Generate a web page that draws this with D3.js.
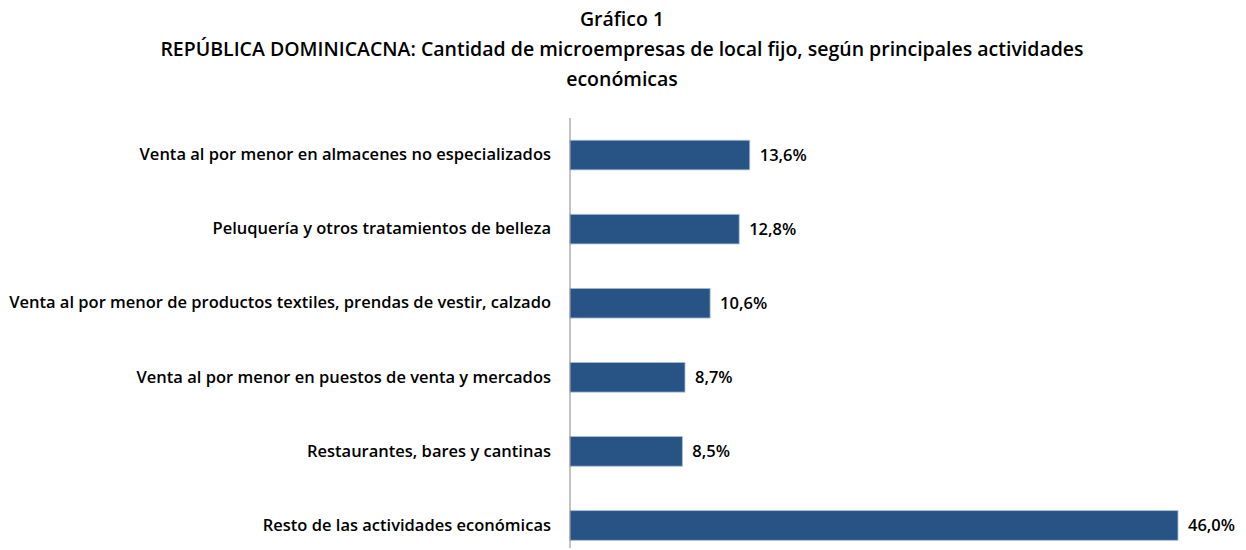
<!DOCTYPE html>
<html>
<head>
<meta charset="utf-8">
<script src="https://cdn.jsdelivr.net/npm/d3@7"></script>
<style>
  body { margin: 0; background: #fff; }
  svg text { font-family: "Open Sans", "Noto Sans", sans-serif; fill: #000; }
</style>
</head>
<body>
<script>
// chart data
var categories = [
  "Venta al por menor en almacenes no especializados",
  "Peluquería y otros tratamientos de belleza",
  "Venta al por menor de productos textiles, prendas de vestir, calzado",
  "Venta al por menor en puestos de venta y mercados",
  "Restaurantes, bares y cantinas",
  "Resto de las actividades económicas"
];
var values = [13.6, 12.8, 10.6, 8.7, 8.5, 46.0];
var titleLines = [
  "Gráfico 1",
  "REPÚBLICA DOMINICACNA: Cantidad de microempresas de local fijo, según principales actividades",
  "económicas"
];

var width = 1246, height = 550;
var plotLeft = 570, plotTop = 118, plotBottom = 548;

var svg = d3.select("body").append("svg")
    .attr("width", width)
    .attr("height", height);

// title
svg.selectAll(".title")
    .data(titleLines)
  .enter().append("text")
    .attr("class", "title")
    .attr("x", 622)
    .attr("y", function(d, i) { return 26 + i * 30; })
    .attr("text-anchor", "middle")
    .style("font-size", "19.5px")
    .style("font-weight", "600")
    .text(function(d) { return d; });

var xScale = d3.scaleLinear()
    .domain([0, 46])
    .range([plotLeft, 1178]);

// band scale runs a bit past the axis line, as in the original
var yScale = d3.scaleBand()
    .domain(categories)
    .range([plotTop, 562.5])
    .paddingInner(0.6)
    .paddingOuter(0.3);

// bars
svg.selectAll(".bar")
    .data(values)
  .enter().append("rect")
    .attr("class", "bar")
    .attr("x", xScale(0))
    .attr("y", function(d, i) { return yScale(categories[i]); })
    .attr("width", function(d) { return xScale(d) - xScale(0); })
    .attr("height", yScale.bandwidth())
    .style("fill", "#285485")
    .style("stroke", "#a9bdd6")
    .style("stroke-width", 0.8);

// value labels
svg.selectAll(".val")
    .data(values)
  .enter().append("text")
    .attr("class", "val")
    .attr("x", function(d) { return xScale(d) + 10; })
    .attr("y", function(d, i) { return yScale(categories[i]) + yScale.bandwidth() / 2; })
    .attr("dy", "0.36em")
    .style("font-size", "16.5px")
    .style("font-weight", "600")
    .text(function(d) { return d3.format(".1f")(d).replace(".", ",") + "%"; });

// category axis
var yAxis = d3.axisLeft(yScale).tickSize(0).tickPadding(19);
var g = svg.append("g")
    .attr("transform", "translate(" + plotLeft + ",0)")
    .call(yAxis);
g.select(".domain").attr("stroke", "#868686").attr("d", "M0," + plotTop + "V" + plotBottom);
g.selectAll("text")
    .style("font-size", "16.5px")
    .style("font-weight", "600")
    .style("font-family", "'Open Sans', 'Noto Sans', sans-serif");
</script>
</body>
</html>
